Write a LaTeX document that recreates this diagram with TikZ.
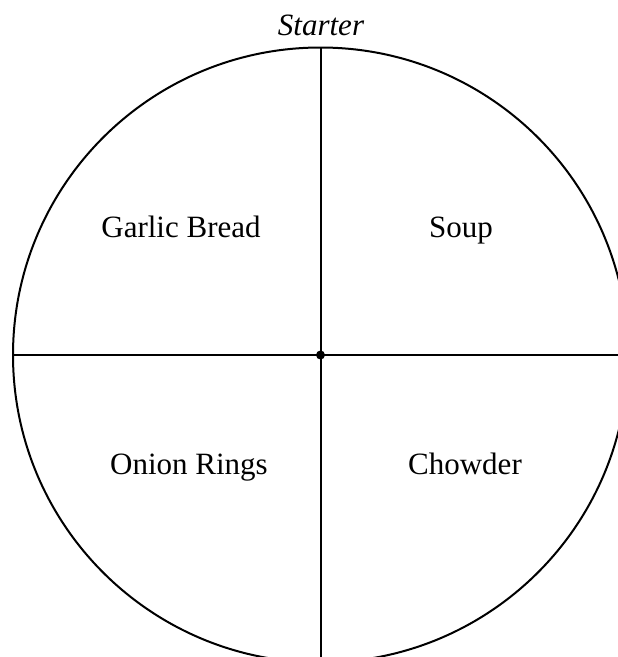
\documentclass[tikz,border=0pt]{standalone}
\usepackage{fontspec}
\setmainfont{Liberation Serif}
\begin{document}
\begin{tikzpicture}[x=1pt, y=-1pt, line width=2pt,
    dish/.style={font=\fontsize{31}{36}\selectfont, anchor=base, inner sep=0pt}]

              % Rahmen
              \useasboundingbox (0,0) rectangle (618,657);
              \clip (0,0) rectangle (618,657);

              % Mittelpunkt und Kreis
              \coordinate (c) at (320.5,355);
              \draw (c) circle (307.5);

              % Achsen
              \coordinate (top) at (320.5,47.5);
              \coordinate (bottom) at (320.5,670);
              \coordinate (left) at (13,355);
              \coordinate (right) at (630,355);
              \draw (top) -- (bottom);
              \draw (left) -- (right);
              \fill (c) circle (4.5);

              % Beschriftung
              \node[dish, font=\fontsize{31}{36}\selectfont\itshape] (starter) at (321,35) {Starter};
              \node[dish] (garlic) at (181,237) {Garlic Bread};
              \node[dish] (soup) at (461,237) {Soup};
              \node[dish] (onion) at (189,474) {Onion Rings};
              \node[dish] (chowder) at (465,474) {Chowder};

          \end{tikzpicture}
\end{document}
